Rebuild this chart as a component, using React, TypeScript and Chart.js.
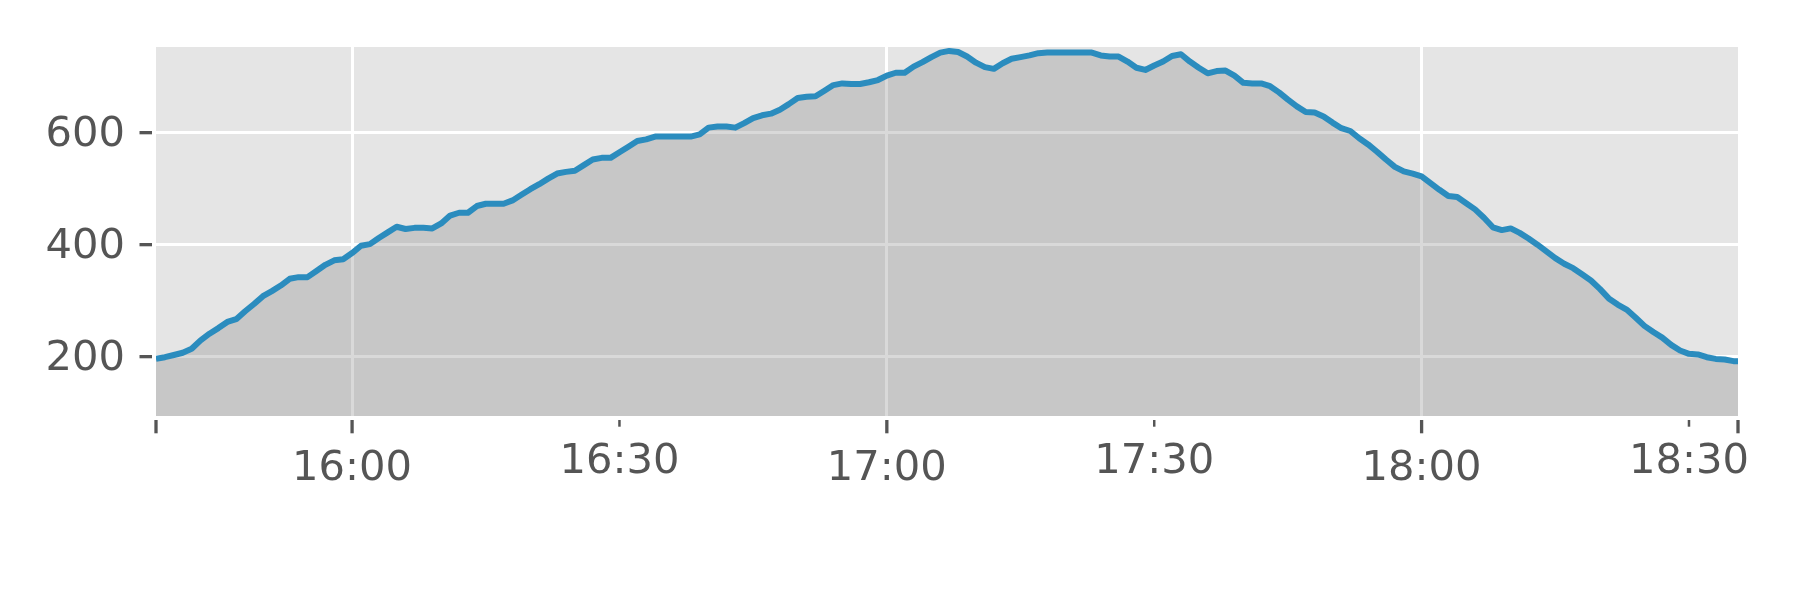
import React, { useEffect, useRef } from "react";
import { Chart, registerables } from "chart.js";

Chart.register(...registerables);

const times = [
  "15:38","15:39","15:40","15:41","15:42","15:43","15:44","15:45","15:46","15:47",
  "15:48","15:49","15:50","15:51","15:52","15:53","15:54","15:55","15:56","15:57",
  "15:58","15:59","16:00","16:01","16:02","16:03","16:04","16:05","16:06","16:07",
  "16:08","16:09","16:10","16:11","16:12","16:13","16:14","16:15","16:16","16:17",
  "16:18","16:19","16:20","16:21","16:22","16:23","16:24","16:25","16:26","16:27",
  "16:28","16:29","16:30","16:31","16:32","16:33","16:34","16:35","16:36","16:37",
  "16:38","16:39","16:40","16:41","16:42","16:43","16:44","16:45","16:46","16:47",
  "16:48","16:49","16:50","16:51","16:52","16:53","16:54","16:55","16:56","16:57",
  "16:58","16:59","17:00","17:01","17:02","17:03","17:04","17:05","17:06","17:07",
  "17:08","17:09","17:10","17:11","17:12","17:13","17:14","17:15","17:16","17:17",
  "17:18","17:19","17:20","17:21","17:22","17:23","17:24","17:25","17:26","17:27",
  "17:28","17:29","17:30","17:31","17:32","17:33","17:34","17:35","17:36","17:37",
  "17:38","17:39","17:40","17:41","17:42","17:43","17:44","17:45","17:46","17:47",
  "17:48","17:49","17:50","17:51","17:52","17:53","17:54","17:55","17:56","17:57",
  "17:58","17:59","18:00","18:01","18:02","18:03","18:04","18:05","18:06","18:07",
  "18:08","18:09","18:10","18:11","18:12","18:13","18:14","18:15","18:16","18:17",
  "18:18","18:19","18:20","18:21","18:22","18:23","18:24","18:25","18:26","18:27",
  "18:28","18:29","18:30","18:31","18:32","18:33","18:34","18:35","18:35:30"
];

const values = [
  196,199,203,207,214,229,241,251,262,267,
  281,294,308,317,327,339,342,342,353,364,
  372,374,385,398,401,412,422,432,428,430,
  430,429,438,452,457,457,469,473,473,473,
  479,489,499,508,518,527,530,532,542,552,
  555,555,565,575,585,588,593,593,593,593,
  593,597,609,611,611,609,617,626,631,634,
  641,651,662,664,665,675,685,688,687,687,
  690,694,702,707,707,718,726,735,743,746,
  744,736,725,717,714,724,732,735,738,742,
  743,743,743,743,743,743,738,736,736,727,
  716,712,720,727,737,740,727,716,706,710,
  711,702,689,688,688,683,672,659,647,637,
  636,629,618,608,603,590,579,566,552,539,
  531,527,522,510,498,487,485,474,463,448,
  431,426,429,421,411,400,388,376,366,358,
  347,336,321,304,293,284,270,255,244,234,
  221,211,205,204,199,196,195,192,192
];

const majorTickTimes = ["16:00", "17:00", "18:00"];
const edgeTickTimes = ["15:38", "18:35:30"];
const minorTickTimes = ["16:30", "17:30", "18:30"];
const yTickValues = [200, 400, 600];
const xRange = ["15:38", "18:35:30"];
const yRange = [94, 753];

function toMin(t: string): number {
  const p = t.split(":").map(Number);
  return p[0] * 60 + p[1] + (p[2] || 0) / 60;
}

const FONT = "DejaVu Sans";
const FS = 41.67;
const TXT = "#555555";
const AREA = { left: 156, top: 47, right: 1738, bottom: 416 };

export default function App() {
  const ref = useRef<HTMLCanvasElement | null>(null);

  useEffect(() => {
    if (!ref.current) return;
    const data = times.map((t, i) => ({ x: toMin(t), y: values[i] }));

    const bgPlugin = {
      id: "bgPlugin",
      afterLayout(chart: any) {
        const ca = chart.chartArea;
        const xs = chart.scales.x;
        const ys = chart.scales.y;
        ca.left = AREA.left; ca.right = AREA.right; ca.top = AREA.top; ca.bottom = AREA.bottom;
        ca.width = AREA.right - AREA.left; ca.height = AREA.bottom - AREA.top;
        xs.left = AREA.left; xs.right = AREA.right; xs.width = ca.width;
        xs.top = AREA.bottom; xs.bottom = 600; xs.height = 600 - AREA.bottom;
        ys.top = AREA.top; ys.bottom = AREA.bottom; ys.height = ca.height;
        ys.left = 0; ys.right = AREA.left; ys.width = AREA.left;
        xs.configure(); ys.configure();
      },
      beforeDraw(chart: any) {
        const { ctx, chartArea } = chart;
        ctx.save();
        ctx.fillStyle = "#E5E5E5";
        ctx.fillRect(chartArea.left, chartArea.top, chartArea.right - chartArea.left, chartArea.bottom - chartArea.top);
        ctx.restore();
      },
      afterDraw(chart: any) {
        const { ctx, chartArea } = chart;
        const xs = chart.scales.x;
        const ys = chart.scales.y;
        ctx.save();
        ctx.strokeStyle = TXT;
        ctx.lineCap = "butt";
        ctx.lineWidth = 3.3;
        yTickValues.forEach((v) => {
          const y = ys.getPixelForValue(v);
          ctx.beginPath();
          ctx.moveTo(chartArea.left - 16.5, y);
          ctx.lineTo(chartArea.left - 4, y);
          ctx.stroke();
        });
        [...majorTickTimes, ...edgeTickTimes].forEach((t) => {
          const x = xs.getPixelForValue(toMin(t));
          ctx.beginPath();
          ctx.moveTo(x, chartArea.bottom + 4);
          ctx.lineTo(x, chartArea.bottom + 17.3);
          ctx.stroke();
        });
        ctx.lineWidth = 2.5;
        minorTickTimes.forEach((t) => {
          const x = xs.getPixelForValue(toMin(t));
          ctx.beginPath();
          ctx.moveTo(x, chartArea.bottom + 4);
          ctx.lineTo(x, chartArea.bottom + 10.7);
          ctx.stroke();
        });
        ctx.fillStyle = TXT;
        ctx.font = `${FS}px "${FONT}"`;
        ctx.textAlign = "center";
        ctx.textBaseline = "alphabetic";
        majorTickTimes.forEach((t) => {
          const x = xs.getPixelForValue(toMin(t));
          ctx.fillText(t, x, chartArea.bottom + 64);
        });
        minorTickTimes.forEach((t) => {
          const x = xs.getPixelForValue(toMin(t));
          ctx.fillText(t, x, chartArea.bottom + 57.3);
        });
        ctx.restore();
      },
    };

    const chart = new Chart(ref.current, {
      type: "line",
      data: {
        datasets: [
          {
            data,
            borderColor: "#2B8CBE",
            borderWidth: 6,
            backgroundColor: "rgba(128,128,128,0.3)",
            fill: "start",
            pointRadius: 0,
            tension: 0,
            borderJoinStyle: "round",
            clip: 0,
          } as any,
        ],
      },
      options: {
        responsive: false,
        animation: false,
        devicePixelRatio: 1,
        layout: { padding: { top: 47, right: 62, left: 0, bottom: 0 } },
        plugins: { legend: { display: false }, tooltip: { enabled: false } },
        scales: {
          x: {
            type: "linear",
            min: toMin(xRange[0]),
            max: toMin(xRange[1]),
            afterBuildTicks: (s: any) => {
              s.ticks = majorTickTimes.map((t) => ({ value: toMin(t) }));
            },
            afterFit: (s: any) => {
              s.height = 184;
            },
            ticks: { display: false },
            grid: { color: "#FFFFFF", lineWidth: 3, drawTicks: false },
            border: { display: false },
          },
          y: {
            type: "linear",
            min: yRange[0],
            max: yRange[1],
            afterBuildTicks: (s: any) => {
              s.ticks = yTickValues.map((v) => ({ value: v }));
            },
            afterFit: (s: any) => {
              s.width = 156;
            },
            ticks: {
              color: TXT,
              font: { family: FONT, size: FS },
              padding: 31,
              labelOffset: 3,
            },
            grid: { color: "#FFFFFF", lineWidth: 3, drawTicks: false },
            border: { display: false },
          },
        },
      } as any,
      plugins: [bgPlugin],
    });
    return () => chart.destroy();
  }, []);

  return (
    <div style={{ position: "fixed", left: 0, top: 0, width: 1800, height: 600, background: "#fff" }}>
      <canvas ref={ref} width={1800} height={600} style={{ width: 1800, height: 600, display: "block" }} />
    </div>
  );
}
